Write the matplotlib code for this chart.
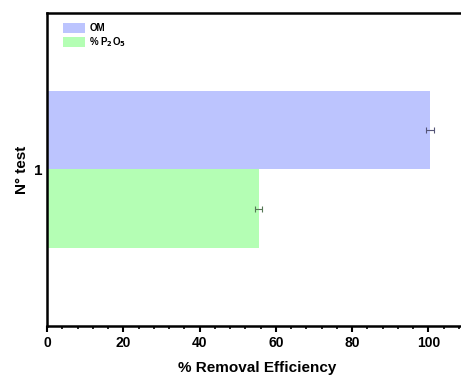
import numpy as np
import matplotlib.pyplot as plt
from matplotlib.ticker import MultipleLocator

plt.rcParams['font.family'] = ['Liberation Sans', 'DejaVu Sans']
plt.rcParams['font.weight'] = 'bold'

tests = [1]
om = [100.5]
om_err = [1.0]
p2o5 = [55.5]
p2o5_err = [1.0]

fig = plt.figure(figsize=(4.61, 3.79), dpi=100)
ax = fig.add_axes([0.102, 0.14, 0.91, 0.826])

h = 0.25
y = np.array(tests, dtype=float)
ax.barh(y + h / 2, om, height=h, color='#bcc4fe', label='OM',
        xerr=om_err, error_kw=dict(ecolor='#555577', elinewidth=0.8, capsize=2, capthick=0.8))
ax.barh(y - h / 2, p2o5, height=h, color='#b4feb4', label='% P$_2$O$_5$',
        xerr=p2o5_err, error_kw=dict(ecolor='#557755', elinewidth=0.8, capsize=2, capthick=0.8))

ax.set_xlim(0, 110)
ax.set_ylim(0.5, 1.5)
ax.set_yticks(tests)
ax.set_yticklabels([str(t) for t in tests], fontsize=11, fontweight='bold')
ax.xaxis.set_major_locator(MultipleLocator(20))
ax.xaxis.set_minor_locator(MultipleLocator(4))
ax.tick_params(axis='x', which='major', direction='out', length=4, width=1.5, labelsize=10)
ax.tick_params(axis='x', which='minor', direction='out', length=2, width=1.2)
ax.tick_params(axis='y', which='major', direction='out', length=0, labelsize=11, pad=3)
for lab in ax.get_xticklabels():
    lab.set_fontweight('bold')
for s in ax.spines.values():
    s.set_linewidth(1.8)

ax.set_xlabel('% Removal Efficiency', fontsize=11, fontweight='bold', labelpad=8)
ax.set_ylabel('N° test', fontsize=11, fontweight='bold', labelpad=4)

leg = ax.legend(loc='upper left', bbox_to_anchor=(0.029, 0.981), borderaxespad=0,
                frameon=False, handlelength=2.3, handleheight=1.3,
                labelspacing=0.2, handletextpad=0.4,
                prop={'weight': 'bold', 'size': 7})

fig.savefig('out.png', dpi=100)
